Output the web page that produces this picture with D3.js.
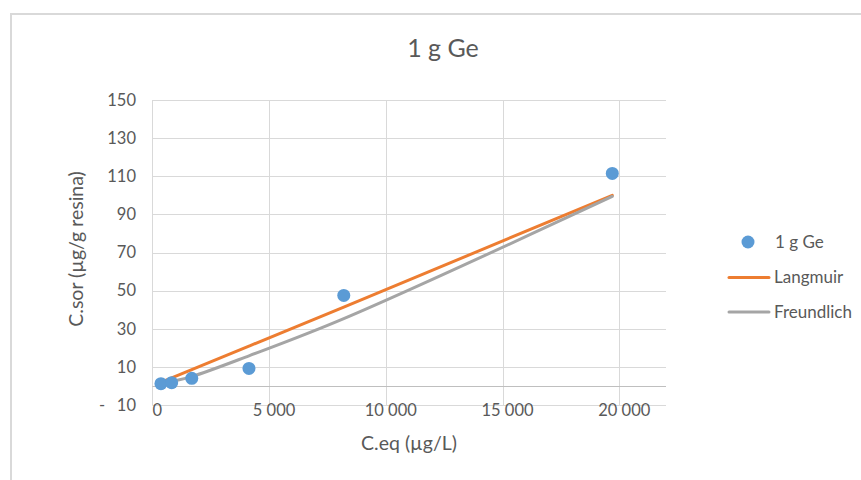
<!DOCTYPE html>
<html>
<head>
<meta charset="utf-8">
<script src="https://cdn.jsdelivr.net/npm/d3@7"></script>
<style>
  html, body { margin: 0; padding: 0; background: #ffffff; }
  svg { display: block; font-family: Lato, "Open Sans", sans-serif; }
</style>
</head>
<body>
<svg id="chart" width="861" height="480"></svg>
<script>
// Equilibrium concentration (µg/L) of each experiment
const ceq = [370, 830, 1690, 4140, 8200, 19700];
// Measured sorbed amount (µg/g resina)
const csor = [1.2, 1.7, 4.0, 9.2, 47.5, 111.5];
// Isotherm model values at the same concentrations
const langmuir = [1.9, 4.2, 8.6, 20.9, 41.4, 100.0];
const freundlich = [0.9, 2.3, 4.9, 15.8, 35.3, 99.4];

const xTicks = [0, 5000, 10000, 15000, 20000];
const yTicks = [-10, 10, 30, 50, 70, 90, 110, 130, 150];
const seriesNames = ["1 g Ge", "Langmuir", "Freundlich"];
const colors = ["#5b9bd5", "#ed7d31", "#a5a5a5"];

const textColor = "#595959";
const gridColor = "#d9d9d9";

const svg = d3.select("#chart");

// Chart area frame
svg.append("rect")
  .attr("x", 11).attr("y", 14)
  .attr("width", 870).attr("height", 490)
  .attr("fill", "#ffffff")
  .attr("stroke", "#d9d9d9").attr("stroke-width", 2);

const x = d3.scaleLinear().domain([0, 22000]).range([152.3, 666]);
const y = d3.scaleLinear().domain([-10, 150]).range([405, 100]);

const fmt = d3.formatLocale({ decimal: ",", thousands: " ", grouping: [3], currency: ["", ""] }).format(",d");

// Horizontal gridlines
svg.append("g").selectAll("line").data(yTicks).join("line")
  .attr("x1", x(0)).attr("x2", x(22000))
  .attr("y1", d => Math.round(y(d)) + 0.5).attr("y2", d => Math.round(y(d)) + 0.5)
  .attr("stroke", gridColor).attr("stroke-width", 1);

// Vertical gridlines (including the value axis line at 0)
svg.append("g").selectAll("line").data(xTicks).join("line")
  .attr("x1", d => Math.round(x(d)) + 0.5).attr("x2", d => Math.round(x(d)) + 0.5)
  .attr("y1", y(150)).attr("y2", y(-10))
  .attr("stroke", gridColor).attr("stroke-width", 1);

// Horizontal axis line crossing at 0
svg.append("line")
  .attr("x1", x(0)).attr("x2", x(22000))
  .attr("y1", Math.round(y(0)) + 0.5).attr("y2", Math.round(y(0)) + 0.5)
  .attr("stroke", "#bfbfbf").attr("stroke-width", 1);

// Y tick labels (accounting style for negatives: sign at the left)
const yLab = svg.append("g").attr("font-size", 16.5).attr("fill", textColor);
yLab.selectAll("text.num").data(yTicks).join("text")
  .attr("class", "num")
  .attr("x", 136).attr("y", d => y(d))
  .attr("dy", "0.35em")
  .attr("text-anchor", "end")
  .text(d => fmt(Math.abs(d)));
yLab.selectAll("text.sign").data(yTicks.filter(d => d < 0)).join("text")
  .attr("class", "sign")
  .attr("x", 99).attr("y", d => y(d))
  .attr("dy", "0.35em")
  .text("-");

// X tick labels
svg.append("g").attr("font-size", 16.5).attr("fill", textColor)
  .selectAll("text").data(xTicks).join("text")
  .attr("x", d => x(d) + 5).attr("y", 416)
  .attr("text-anchor", "middle")
  .text(d => fmt(d));

// Title and axis titles
svg.append("text")
  .attr("x", 443).attr("y", 57)
  .attr("text-anchor", "middle")
  .attr("font-size", 25).attr("fill", textColor)
  .text("1 g Ge");

svg.append("text")
  .attr("x", 409).attr("y", 450)
  .attr("text-anchor", "middle")
  .attr("font-size", 19.5).attr("fill", textColor)
  .text("C.eq (µg/L)");

svg.append("text")
  .attr("transform", "translate(83,249) rotate(-90)")
  .attr("text-anchor", "middle")
  .attr("font-size", 19.5).attr("fill", textColor)
  .text("C.sor (µg/g resina)");

// Model curves
const line = d3.line()
  .x(d => x(d[0])).y(d => y(d[1]))
  .curve(d3.curveCatmullRom.alpha(0.5));

[langmuir, freundlich].forEach((vals, i) => {
  svg.append("path")
    .datum(d3.zip(ceq, vals))
    .attr("d", line)
    .attr("fill", "none")
    .attr("stroke", colors[i + 1])
    .attr("stroke-width", 3)
    .attr("stroke-linecap", "round")
    .attr("stroke-linejoin", "round");
});

// Experimental points
svg.append("g").selectAll("circle").data(d3.zip(ceq, csor)).join("circle")
  .attr("cx", d => x(d[0])).attr("cy", d => y(d[1]))
  .attr("r", 6.5)
  .attr("fill", colors[0]);

// Legend
const legend = svg.append("g").attr("font-size", 17).attr("fill", textColor);
const legendY = [242, 277.5, 312];
legend.append("circle")
  .attr("cx", 748).attr("cy", legendY[0]).attr("r", 6.5)
  .attr("fill", colors[0]);
[1, 2].forEach(i => {
  legend.append("line")
    .attr("x1", 729).attr("x2", 769)
    .attr("y1", legendY[i]).attr("y2", legendY[i])
    .attr("stroke", colors[i]).attr("stroke-width", 3)
    .attr("stroke-linecap", "round");
});
legend.selectAll("text").data(seriesNames).join("text")
  .attr("x", (d, i) => i === 0 ? 775 : 774)
  .attr("y", (d, i) => legendY[i])
  .attr("dy", "0.35em")
  .text(d => d);
</script>
</body>
</html>
